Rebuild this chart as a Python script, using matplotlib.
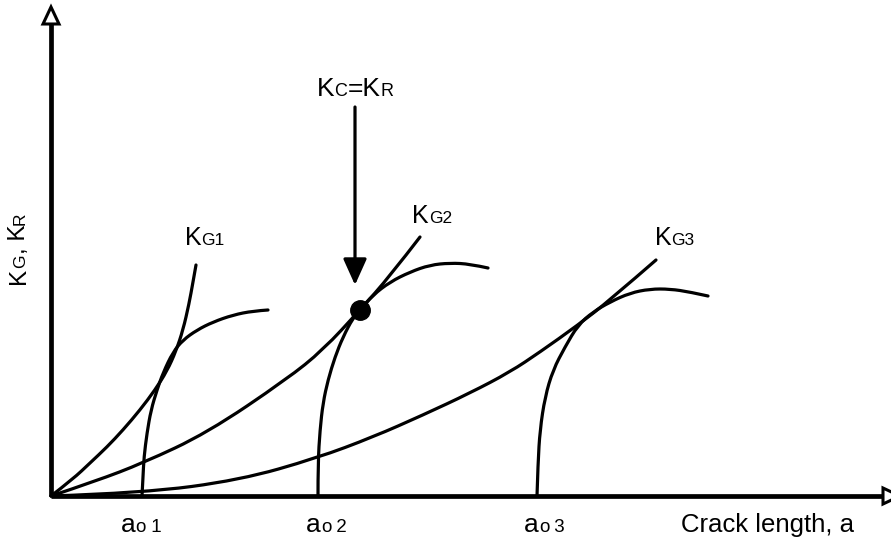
import numpy as np
import matplotlib
matplotlib.use("Agg")
import matplotlib.pyplot as plt
from matplotlib.path import Path
from matplotlib.patches import PathPatch, Polygon
from matplotlib.transforms import offset_copy

plt.rcParams['font.family'] = ['Liberation Sans', 'DejaVu Sans']

# ---- traced curve points (crack length a, stress intensity K) ----
kg1_a = [0, 22, 39, 56, 72, 89, 104, 116, 125, 132, 138, 142, 145]
kg1_k = [0, 17, 33, 49, 66, 86, 106, 125, 145, 166, 192, 214, 231]

r1_a = [91, 92, 93, 96, 100, 106, 112, 122, 132, 146, 162, 182, 202, 217]
r1_k = [0, 19, 39, 63, 86, 106, 123, 144, 156, 166, 174, 181, 185, 186]

kg2_a = [0, 45, 92, 156, 236, 272, 309, 339, 369]
kg2_k = [0, 15, 33, 63, 117, 146, 186, 220, 259]

r2_a = [267, 267, 269, 272, 277, 284, 292, 302, 309, 322, 339, 359, 379, 399, 419, 437]
r2_k = [0, 33, 66, 93, 116, 139, 159, 178, 186, 201, 214, 224, 231, 233, 232, 228]

kg3_a = [0, 92, 189, 266, 322, 372, 419, 459, 489, 527, 559, 605]
kg3_k = [0, 3, 16, 38, 59, 81, 103, 124, 144, 171, 196, 236]

r3_a = [486, 487, 489, 494, 502, 514, 527, 542, 559, 579, 599, 619, 639, 657]
r3_k = [0, 33, 66, 99, 126, 149, 171, 184, 194, 203, 207, 207, 204, 200]

# critical point (Kc = KR) and arrow start
crit_a, crit_k = 309, 186
arrow_top_k = 389
arrow_tip_k = 211

# initial crack lengths labels
a0_pos = [70, 255, 473]
a0_nums = ["1", "2", "3"]

XMIN, XMAX, YMIN, YMAX = -51, 840, -44, 496

fig = plt.figure(figsize=(8.91, 5.40), dpi=100)
ax = fig.add_axes([0, 0, 1, 1])
ax.set_xlim(XMIN, XMAX)
ax.set_ylim(YMIN, YMAX)
ax.axis('off')

LW = 2.3


def smooth_path(xs, ys):
    pts = np.column_stack([xs, ys]).astype(float)
    verts = [pts[0]]
    codes = [Path.MOVETO]
    n = len(pts)
    for i in range(1, n - 1):
        end = (pts[i] + pts[i + 1]) / 2 if i < n - 2 else pts[i + 1]
        verts += [pts[i], end]
        codes += [Path.CURVE3, Path.CURVE3]
    return Path(verts, codes)


for xs, ys in [(kg1_a, kg1_k), (r1_a, r1_k), (kg2_a, kg2_k), (r2_a, r2_k),
               (kg3_a, kg3_k), (r3_a, r3_k)]:
    ax.add_patch(PathPatch(smooth_path(xs, ys), fill=False, lw=LW,
                           edgecolor='black', capstyle='round', zorder=3))

# axes lines with hollow arrow heads
ax.plot([0, 0], [0, 472], color='black', lw=3.4, solid_capstyle='butt', zorder=4)
ax.plot([0, 832], [0, 0], color='black', lw=3.4, solid_capstyle='butt', zorder=4)
ax.add_patch(Polygon([[-8, 472], [8, 472], [0, 489]], closed=True,
                     facecolor='white', edgecolor='black', lw=2.2, zorder=5))
ax.add_patch(Polygon([[832, -8], [832, 8], [849, 0]], closed=True,
                     facecolor='white', edgecolor='black', lw=2.2, zorder=5))

# critical point + arrow
ax.plot([crit_a], [crit_k], 'o', color='black', markersize=14, zorder=6)
ax.annotate('', xy=(crit_a - 5, arrow_tip_k), xytext=(crit_a - 5, arrow_top_k),
            arrowprops=dict(arrowstyle='-|>,head_length=0.8,head_width=0.36',
                            mutation_scale=20, lw=2.3, color='black',
                            shrinkA=0, shrinkB=0), zorder=6)

renderer = fig.canvas.get_renderer()


def rich(x, y, parts, rotation=0):
    trans = ax.transData
    for s, size in parts:
        t = ax.text(x, y, s, fontsize=size, transform=trans, ha='left',
                    va='baseline', rotation=rotation, rotation_mode='anchor',
                    color='black', zorder=7)
        ex = t.get_window_extent(renderer=renderer)
        if rotation:
            trans = offset_copy(t.get_transform(), fig=fig, y=ex.height, units='dots')
        else:
            trans = offset_copy(t.get_transform(), fig=fig, x=ex.width, units='dots')


BIG, SMALL = 18, 12.5
rich(266, 400, [("K", 19), ("C", 13), ("=K", 19), ("R", 13)])
rich(134, 251, [("K", BIG), ("G1", SMALL)])
rich(361, 273, [("K", BIG), ("G2", SMALL)])
rich(604, 251, [("K", BIG), ("G3", SMALL)])
rich(-26, 212, [("K", 17.5), ("G", 12.5), (", K", 17.5), ("R", 12.5)], rotation=90)
for xp, num in zip(a0_pos, a0_nums):
    rich(xp, -36, [("a", 19), ("o", 13.5), (" " + num, 13.5)])
ax.text(630, -36, "Crack length, a", fontsize=18.5, ha='left', va='baseline')

fig.savefig("out.png", dpi=100)
